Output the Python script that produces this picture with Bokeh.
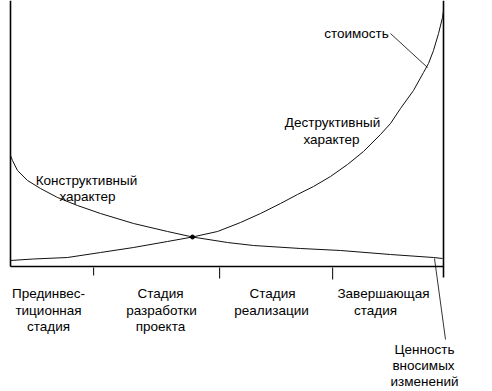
from bokeh.plotting import figure
from bokeh.embed import file_html
from bokeh.resources import INLINE
from bokeh.core.properties import value

# ---- data (x: project progress 0..100, y: level 0..100) ----
cost_x = [0, 5.31, 13.16, 20.79, 28.41, 36.26, 42.03, 47.81, 53.12, 57.74, 62.36, 66.28,
          69.98, 73.90, 77.83, 81.52, 85.45, 87.76, 90.07, 93.07, 95.38, 96.54, 97.69,
          98.85, 99.77, 100]
cost_y = [2.26, 2.82, 3.38, 5.26, 7.14, 9.40, 11.09, 13.16, 16.54, 19.92, 23.68, 27.07,
          30.08, 33.83, 38.35, 43.23, 49.62, 53.76, 59.40, 66.17, 72.93, 76.32, 81.20,
          87.59, 93.61, 96.24]

value_x = [0, 0.46, 1.62, 3.93, 6.93, 10.85, 15.47, 20.79, 28.41, 36.26, 42.03, 50.12,
           56.12, 66.97, 76.21, 87.76, 97.69, 99.77]
value_y = [41.73, 39.85, 36.09, 32.33, 29.32, 25.94, 22.93, 19.92, 16.17, 13.16, 11.09,
           9.02, 7.89, 6.77, 6.02, 4.51, 3.38, 3.01]

stage_bounds = [19.2, 48.3, 74.4]
stage_labels = ["Прединвес-\nтиционная\nстадия", "Стадия\nразработки\nпроекта",
                "Стадия\nреализации", "Завершающая\nстадия"]

# ---- layout (pixel mapping) ----
FIG_W, FIG_H = 492, 391
PXX, PXY = 4.33, 2.66
OX, OY = 10, 266          # pixel position of data origin
x_start = -OX / PXX
x_end = x_start + FIG_W / PXX
y_end = OY / PXY
y_start = y_end - FIG_H / PXY


def dx(sx):  # pixel x -> data x
    return (sx - OX) / PXX


def dy(sy):  # pixel y -> data y
    return (OY - sy) / PXY


p = figure(width=FIG_W, height=FIG_H, x_range=(x_start, x_end), y_range=(y_start, y_end),
           output_backend="svg", toolbar_location=None, min_border=0)
p.axis.visible = False
p.grid.visible = False
p.outline_line_color = None
p.background_fill_color = "white"
p.border_fill_color = "white"

# axes frame
p.segment(x0=[0, 0, 100], y0=[0, 0, dy(277)], x1=[0, 100, 100], y1=[y_end, 0, y_end],
          line_color="black", line_width=1.6)

# stage boundary ticks
p.segment(x0=stage_bounds, y0=[dy(267)] * 3, x1=stage_bounds,
          y1=[dy(275), dy(278), dy(279)], line_color="black", line_width=1)

# curves
p.line(cost_x, cost_y, line_color="#111111", line_width=1)
p.line(value_x, value_y, line_color="#111111", line_width=1)
p.scatter([42.03], [11.09], size=4, color="black")

# pointer lines
p.segment(x0=[dx(390), dx(434)], y0=[dy(33), dy(258)], x1=[dx(427), dx(445)], y1=[dy(67), dy(339)],
          line_color="black", line_width=0.8)

font = value("Liberation Sans")
fs = "13.5px"

texts = [
    ("Конструктивный", 86, 180), ("характер", 87, 196),
    ("Деструктивный", 332, 122), ("характер", 331, 139),
    ("стоимость", 356, 33),
    ("Ценность", 424, 349), ("вносимых", 423, 365), ("изменений", 424, 381),
]
stage_cx = [[48, 48, 48], [160, 161, 160], [272, 271], [383, 375]]
for lbl, cxs in zip(stage_labels, stage_cx):
    for i, (line, cx) in enumerate(zip(lbl.split("\n"), cxs)):
        texts.append((line, cx, 293 + 16.5 * i))

p.text(x=[dx(t[1]) for t in texts], y=[dy(t[2]) for t in texts], text=[t[0] for t in texts],
       text_align="center", text_baseline="alphabetic", text_font=font,
       text_font_size=fs, text_color="black")

open("out.html", "w").write(file_html(p, INLINE))
